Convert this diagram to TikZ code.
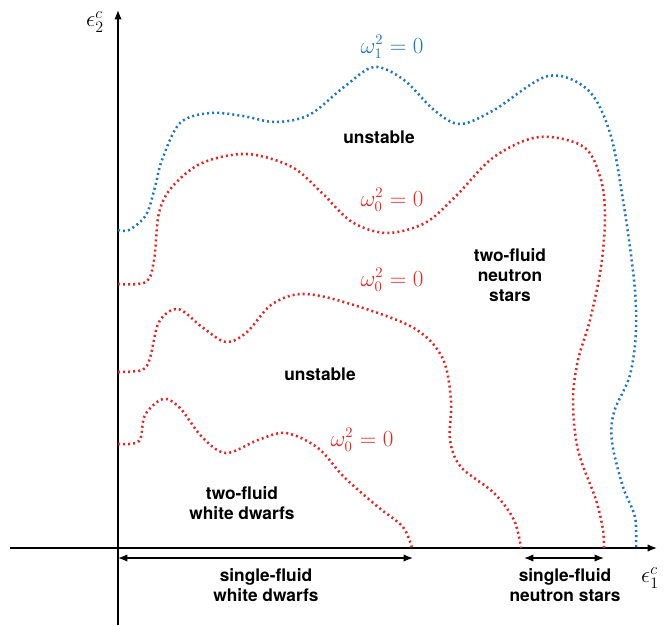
\documentclass[tikz,border=0pt]{standalone}
\usepackage{amsmath, amssymb}
\usepackage{fontspec}
\setsansfont{TeX Gyre Heros}
\usepackage{xcolor}
\usepackage{tikz}
\usetikzlibrary{arrows.meta, positioning}
\definecolor{modeblue}{RGB}{25, 120, 200}
\definecolor{modered}{RGB}{235, 35, 30}

\begin{document}
\begin{tikzpicture}[x=0.75pt, y=-0.75pt, >={Latex[length=7pt, width=5.5pt]},
    axis/.style={line width=1pt, color=black},
    span/.style={line width=1pt, <->, color=black},
    bluecurve/.style={modeblue, line width=1.9pt, dash pattern=on 1.5pt off 2.3pt},
    redcurve/.style={modered, line width=1.9pt, dash pattern=on 1.5pt off 2.3pt},
    region/.style={font=\sffamily\bfseries\fontsize{13}{15}\selectfont, align=center},
    modelabel/.style={font=\fontsize{16}{18}\selectfont, inner sep=1pt},
    axislabel/.style={font=\fontsize{17}{19}\selectfont, inner sep=1pt}]

    \useasboundingbox (0,0) rectangle (670,625);

    % Axes
    \coordinate (xstart) at (10,548);
    \coordinate (xend) at (657,548);
    \coordinate (ystart) at (118,625);
    \coordinate (yend) at (118,10);
    \draw[axis, ->] (xstart) -- (xend);
    \draw[axis, ->] (ystart) -- (yend);
    \node[axislabel] (eps2) at (95,22) {$\epsilon_2^c$};
    \node[axislabel] (eps1) at (650,578) {$\epsilon_1^c$};

    % Stability boundaries
    \draw[bluecurve] plot[smooth, tension=0.55] coordinates {
        (118,230) (129,230) (146,215) (155,187) (162,160) (180,123) (210,113)
        (243,116) (275,122) (309,115) (344,87) (374,67) (404,80) (434,110)
        (460,124) (494,110) (548,76) (588,90) (610,133) (623,200) (634,280)
        (636,330) (630,375) (614,412) (612,442) (623,487) (635,517) (636,548)};
    \draw[redcurve] plot[smooth, tension=0.55] coordinates {
        (118,284) (146,282) (154,260) (159,213) (172,187) (202,163) (247,154)
        (292,167) (322,193) (352,222) (387,233) (425,223) (455,197) (494,157)
        (539,137) (584,147) (601,180) (605,217) (601,267) (590,320) (578,360)
        (573,400) (578,450) (596,500) (603,530) (604,548)};
    \draw[redcurve] plot[smooth, tension=0.55] coordinates {
        (118,372) (142,370) (150,358) (159,322) (178,309) (202,327) (226,342)
        (247,332) (271,305) (301,294) (344,302) (412,327) (442,357) (451,400)
        (450,440) (461,467) (494,493) (514,520) (521,548)};
    \draw[redcurve] plot[smooth, tension=0.55] coordinates {
        (118,444) (139,441) (145,415) (163,399) (180,408) (202,437) (226,453)
        (258,440) (286,433) (318,448) (344,477) (378,507) (403,527) (412,548)};

    % Curve labels
    \node[modelabel, text=modeblue] (blue_lbl) at (392,47) {$\omega_1^2 = 0$};
    \node[modelabel, text=modered] (red_lbl_a) at (392,200) {$\omega_0^2 = 0$};
    \node[modelabel, text=modered] (red_lbl_b) at (392,280) {$\omega_0^2 = 0$};
    \node[modelabel, text=modered] (red_lbl_c) at (362,440) {$\omega_0^2 = 0$};

    % Regions
    \node[region] (unstable_top) at (379,137) {unstable};
    \node[region] (two_ns) at (510,275) {two-fluid\\neutron\\stars};
    \node[region] (unstable_mid) at (320,374) {unstable};
    \node[region] (two_wd) at (242,503) {two-fluid\\white dwarfs};

    % Single-fluid ranges
    \coordinate (wd_left) at (118,558);
    \coordinate (wd_right) at (413,558);
    \coordinate (ns_left) at (524,558);
    \coordinate (ns_right) at (604,558);
    \draw[span] (wd_left) -- (wd_right);
    \draw[span] (ns_left) -- (ns_right);
    \node[region] (one_wd) at (266,585) {single-fluid\\white dwarfs};
    \node[region] (one_ns) at (565,585) {single-fluid\\neutron stars};
\end{tikzpicture}
\end{document}
